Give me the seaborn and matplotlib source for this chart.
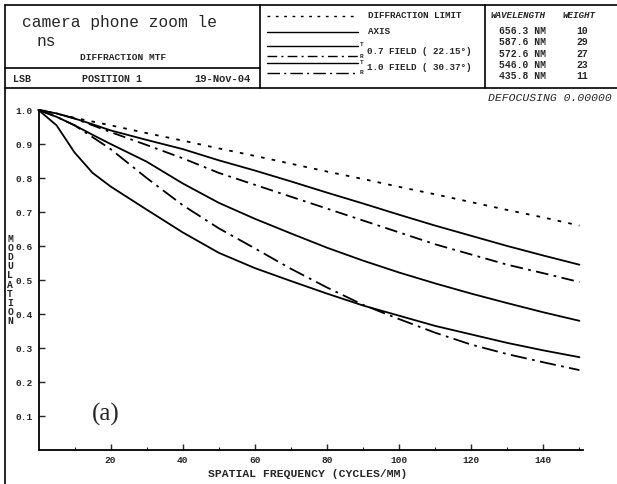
import numpy as np
import pandas as pd
import seaborn as sns
import matplotlib.pyplot as plt

# spatial frequency (cycles/mm) and MTF values
freq = [0, 5, 10, 15, 20, 30, 40, 50, 60, 70, 80, 90, 100, 110, 120, 130, 140, 150]
diffraction_limit = [1.0, 0.989, 0.977, 0.966, 0.955, 0.932, 0.910, 0.887, 0.865, 0.842,
                     0.819, 0.797, 0.774, 0.752, 0.729, 0.706, 0.684, 0.660]
axis_mtf = [1.0, 0.990, 0.975, 0.958, 0.940, 0.912, 0.885, 0.852, 0.822, 0.790,
            0.757, 0.725, 0.692, 0.660, 0.630, 0.600, 0.572, 0.545]
field07_r = [1.0, 0.990, 0.975, 0.955, 0.935, 0.897, 0.858, 0.815, 0.780, 0.745,
             0.710, 0.675, 0.640, 0.605, 0.575, 0.545, 0.520, 0.494]
field07_t = [1.0, 0.980, 0.955, 0.927, 0.900, 0.848, 0.784, 0.727, 0.680, 0.637,
             0.595, 0.557, 0.522, 0.490, 0.460, 0.432, 0.405, 0.380]
field10_r = [1.0, 0.980, 0.955, 0.920, 0.885, 0.800, 0.720, 0.652, 0.593, 0.533,
             0.478, 0.427, 0.385, 0.345, 0.310, 0.282, 0.258, 0.235]
field10_t = [1.0, 0.955, 0.875, 0.815, 0.775, 0.707, 0.640, 0.580, 0.535, 0.497,
             0.460, 0.425, 0.395, 0.365, 0.340, 0.315, 0.293, 0.273]

curve_names = ['diff', 'axis', '07T', '07R', '10T', '10R']
curve_values = [diffraction_limit, axis_mtf, field07_t, field07_r, field10_t, field10_r]

wavelengths = ['656.3', '587.6', '572.6', '546.0', '435.8']
weights = [10, 29, 27, 23, 11]

x_ticks = [20, 40, 60, 80, 100, 120, 140]
y_ticks = [0.1, 0.2, 0.3, 0.4, 0.5, 0.6, 0.7, 0.8, 0.9, 1.0]

dash_styles = {'diff': (2, 4), 'axis': '', '07T': '', '07R': (7, 3, 1.5, 3),
               '10T': '', '10R': (9, 3, 1.5, 3)}

df = pd.concat([pd.DataFrame({'freq': freq, 'mtf': v, 'curve': n})
                for n, v in zip(curve_names, curve_values)], ignore_index=True)

sns.set_style('white')
mono = 'Liberation Mono'
W, H = 617, 484
fig = plt.figure(figsize=(W / 100, H / 100), dpi=100)

# header / frame drawn in pixel coordinates
hdr = fig.add_axes([0, 0, 1, 1], zorder=0)
hdr.set_xlim(0, W)
hdr.set_ylim(H, 0)
hdr.axis('off')
lw = 1.2
for (x0, y0, x1, y1) in [(5, 5, W, 5), (5, 5, 5, H), (5, 68, 260, 68), (5, 88, W, 88),
                         (260, 5, 260, 88), (485, 5, 485, 88)]:
    hdr.plot([x0, x1], [y0, y1], color='black', lw=lw)

hdr.text(22, 23, 'camera phone zoom le', fontsize=11.7, family=mono, va='center')
hdr.text(37, 42, 'ns', fontsize=11.7, family=mono, va='center')
hdr.text(80, 58, 'DIFFRACTION MTF', fontsize=6.8, family=mono, weight='bold', va='center')
hdr.text(13, 79, 'LSB', fontsize=7.2, family=mono, weight='bold', va='center')
hdr.text(82, 79, 'POSITION 1', fontsize=7.2, family=mono, weight='bold', va='center')
hdr.text(194, 79, '19-Nov-04', fontsize=7.6, family=mono, weight='bold', va='center')

# legend samples
leg_rows = [('diff', 16), ('axis', 32), ('07T', 46), ('07R', 56), ('10T', 63), ('10R', 73)]
for name, yy in leg_rows:
    d = dash_styles[name]
    ls = '-' if d == '' else (0, d)
    hdr.plot([267, 358], [yy, yy], color='black', lw=1.0, linestyle=ls)
for lab, yy in [('T', 45), ('R', 56), ('T', 62), ('R', 73)]:
    hdr.text(360, yy, lab, fontsize=4.5, family=mono, weight='bold', va='center')
hdr.text(368, 16, 'DIFFRACTION LIMIT', fontsize=6.7, family=mono, weight='bold', va='center')
hdr.text(368, 32, 'AXIS', fontsize=6.7, family=mono, weight='bold', va='center')
hdr.text(367, 51, '0.7 FIELD ( 22.15°)', fontsize=6.7, family=mono, weight='bold', va='center')
hdr.text(367, 68, '1.0 FIELD ( 30.37°)', fontsize=6.7, family=mono, weight='bold', va='center')

# wavelength table
hdr.text(491, 15, 'WAVELENGTH', fontsize=6.7, family=mono, weight='bold', style='italic', va='center')
hdr.text(563, 15, 'WEIGHT', fontsize=6.7, family=mono, weight='bold', style='italic', va='center')
for i, (wl, wt) in enumerate(zip(wavelengths, weights)):
    yy = 31 + i * 11.3
    hdr.text(499, yy, wl + ' NM', fontsize=7, family=mono, weight='bold', va='center')
    hdr.text(582, yy, str(wt), fontsize=7, family=mono, weight='bold', va='center', ha='center')
hdr.text(612, 98, 'DEFOCUSING 0.00000', fontsize=8.2, family=mono, style='italic',
         va='center', ha='right')
hdr.text(106, 414, '(a)', fontsize=18, family='Liberation Serif', va='center', ha='center')

# main plot
ax = fig.add_axes([38.5 / W, (H - 450) / H, (583 - 38.5) / W, 340 / H], zorder=1)
ax.patch.set_alpha(0)
sns.lineplot(data=df, x='freq', y='mtf', style='curve', dashes=dash_styles,
             color='black', linewidth=1.3, legend=False, ax=ax)
for line in ax.lines:
    line.set_clip_on(False)

ax.set_xlim(0, 151)
ax.set_ylim(0, 1.0)
ax.set_xticks(x_ticks)
ax.set_xticks(np.arange(10, 151, 10), minor=True)
ax.set_yticks(y_ticks)
ax.set_xticklabels([str(t) for t in x_ticks], family=mono, weight='bold', fontsize=6.8)
ax.set_yticklabels([f'{t:.1f}' for t in y_ticks], family=mono, weight='bold', fontsize=6.8)
ax.tick_params(axis='both', which='major', direction='in', length=4, width=1, pad=4,
               bottom=True, left=True)
ax.tick_params(axis='x', which='minor', direction='in', length=2, width=0.8, bottom=True)
for s in ['top', 'right']:
    ax.spines[s].set_visible(False)
for s in ['left', 'bottom']:
    ax.spines[s].set_linewidth(1.3)
    ax.spines[s].set_color('black')

ax.set_xlabel('SPATIAL FREQUENCY (CYCLES/MM)', family=mono, weight='bold', fontsize=8.2)
ax.xaxis.set_label_coords(0.495, -0.055)
ax.set_ylabel('\n'.join('MODULATION'), rotation=0, family=mono, weight='bold',
              fontsize=7, linespacing=0.9, va='center', ha='center')
ax.yaxis.set_label_coords(-0.052, 0.5)

fig.savefig('out.png', dpi=100)
